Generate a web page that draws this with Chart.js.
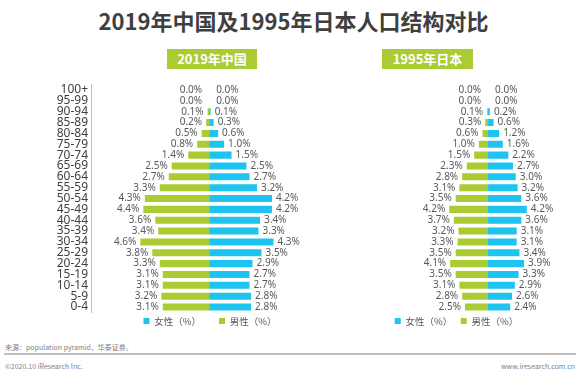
<!DOCTYPE html>
<html><head><meta charset="utf-8">
<script src="https://cdn.jsdelivr.net/npm/chart.js@4.4.0/dist/chart.umd.min.js"></script>
<style>
html,body{margin:0;padding:0;background:#fff;overflow:hidden;}
#wrap{position:relative;width:580px;height:372px;background:#fff;overflow:hidden;}
.abs{position:absolute;}
#title{left:0;top:5px;width:587px;text-align:center;font:bold 22px "Noto Sans CJK SC",sans-serif;color:#3f3f3f;line-height:30px;white-space:nowrap;}
.tag{top:49px;height:20px;line-height:20px;background:#AACC32;color:#fff;font:bold 13px "Noto Sans CJK SC",sans-serif;text-align:center;white-space:nowrap;}
.foot{font:7px "Noto Sans CJK SC",sans-serif;color:#808080;white-space:nowrap;line-height:10px;}
canvas{position:absolute;}
</style>
</head><body>
<div id="wrap">
  <div id="title" class="abs">2019年中国及1995年日本人口结构对比</div>
  <div class="abs tag" style="left:167px;width:90px;">2019年中国</div>
  <div class="abs tag" style="left:382px;width:91px;">1995年日本</div>
  <canvas id="cn" width="420" height="266" style="left:0;top:70px;width:420px;height:266px;"></canvas>
  <canvas id="jp" width="239" height="266" style="left:337px;top:70px;width:239px;height:266px;"></canvas>
  <div class="abs foot" style="left:5px;top:342px;">来源：population pyramid，华泰证券。</div>
  <div class="abs" style="left:4px;top:353px;width:572px;height:2px;background:#C0C0C0;"></div>
  <div class="abs foot" style="left:5px;top:361px;">©2020.10 iResearch Inc.</div>
  <div class="abs foot" style="right:5px;top:361px;">www.iresearch.com.cn</div>
</div>
<script>
const ageGroups = ['100+','95-99','90-94','85-89','80-84','75-79','70-74','65-69','60-64','55-59','50-54','45-49','40-44','35-39','30-34','25-29','20-24','15-19','10-14','5-9','0-4'];
const chinaMale   = [0.0,0.0,0.1,0.2,0.5,0.8,1.4,2.5,2.7,3.3,4.3,4.4,3.6,3.4,4.6,3.8,3.3,3.1,3.1,3.2,3.1];
const chinaFemale = [0.0,0.0,0.1,0.3,0.6,1.0,1.5,2.5,2.7,3.2,4.2,4.2,3.4,3.3,4.3,3.5,2.9,2.7,2.7,2.8,2.8];
const japanMale   = [0.0,0.0,0.1,0.3,0.6,1.0,1.5,2.3,2.8,3.1,3.5,4.2,3.7,3.2,3.3,3.5,4.1,3.5,3.1,2.8,2.5];
const japanFemale = [0.0,0.0,0.2,0.6,1.2,1.6,2.2,2.7,3.0,3.2,3.6,4.2,3.6,3.1,3.1,3.4,3.9,3.3,2.9,2.6,2.4];
const femaleLabel = '女性（%）';
const maleLabel = '男性（%）';

const BLUE = '#1EC4F0';
const GREEN = '#AACC32';

const valueLabels = {
  id: 'valueLabels',
  afterDatasetsDraw(chart) {
    const ctx = chart.ctx;
    ctx.save();
    ctx.font = '10px "Noto Sans", sans-serif';
    ctx.fillStyle = '#595959';
    ctx.textBaseline = 'middle';
    chart.data.datasets.forEach((ds, di) => {
      const meta = chart.getDatasetMeta(di);
      meta.data.forEach((el, i) => {
        const v = Math.abs(ds.data[i]);
        const txt = v.toFixed(1) + '%';
        const gap = v === 0 ? 7 : 4;
        if (ds.side === 'left') {
          ctx.textAlign = 'right';
          ctx.fillText(txt, Math.min(el.x, el.base) - gap, el.y);
        } else {
          ctx.textAlign = 'left';
          ctx.fillText(txt, Math.max(el.x, el.base) + gap, el.y);
        }
      });
    });
    ctx.restore();
  }
};

function makeChart(id, male, female, o) {
  return new Chart(document.getElementById(id), {
    type: 'bar',
    data: {
      labels: ageGroups,
      datasets: [
        {label: femaleLabel + o.legendGap, data: female, backgroundColor: BLUE, side: 'right', categoryPercentage: 1, barPercentage: 0.65},
        {label: maleLabel, data: male.map(v => -v), backgroundColor: GREEN, side: 'left', categoryPercentage: 1, barPercentage: 0.65}
      ]
    },
    options: {
      indexAxis: 'y',
      responsive: false,
      maintainAspectRatio: false,
      animation: false,
      layout: {padding: {top: 14.6, bottom: 0.3, left: 0, right: 0}},
      scales: {
        x: {display: false, stacked: true, min: o.min, max: o.max},
        y: {
          display: o.showY,
          stacked: true,
          grid: {display: false, drawTicks: false},
          border: {display: true, color: '#BFBFBF', width: 1},
          ticks: {autoSkip: false, padding: 3, color: '#404040', font: {size: 12, family: '"Noto Sans", sans-serif'}},
          afterFit: s => { s.width = 91; }
        }
      },
      plugins: {
        legend: {
          position: 'bottom',
          labels: {boxWidth: 6, boxHeight: 6, padding: 3.75, color: '#595959',
                   font: {size: 9.5, family: '"Noto Sans CJK SC", sans-serif'}}
        },
        tooltip: {enabled: false}
      }
    },
    plugins: [valueLabels]
  });
}

makeChart('cn', chinaMale, chinaFemale, {min: -7.9, max: 14.1, showY: true, legendGap: '\u3000\u3000'});
makeChart('jp', japanMale, japanFemale, {min: -6.5, max: 9.52, showY: false, legendGap: '\u3000'});
</script>
</body></html>
